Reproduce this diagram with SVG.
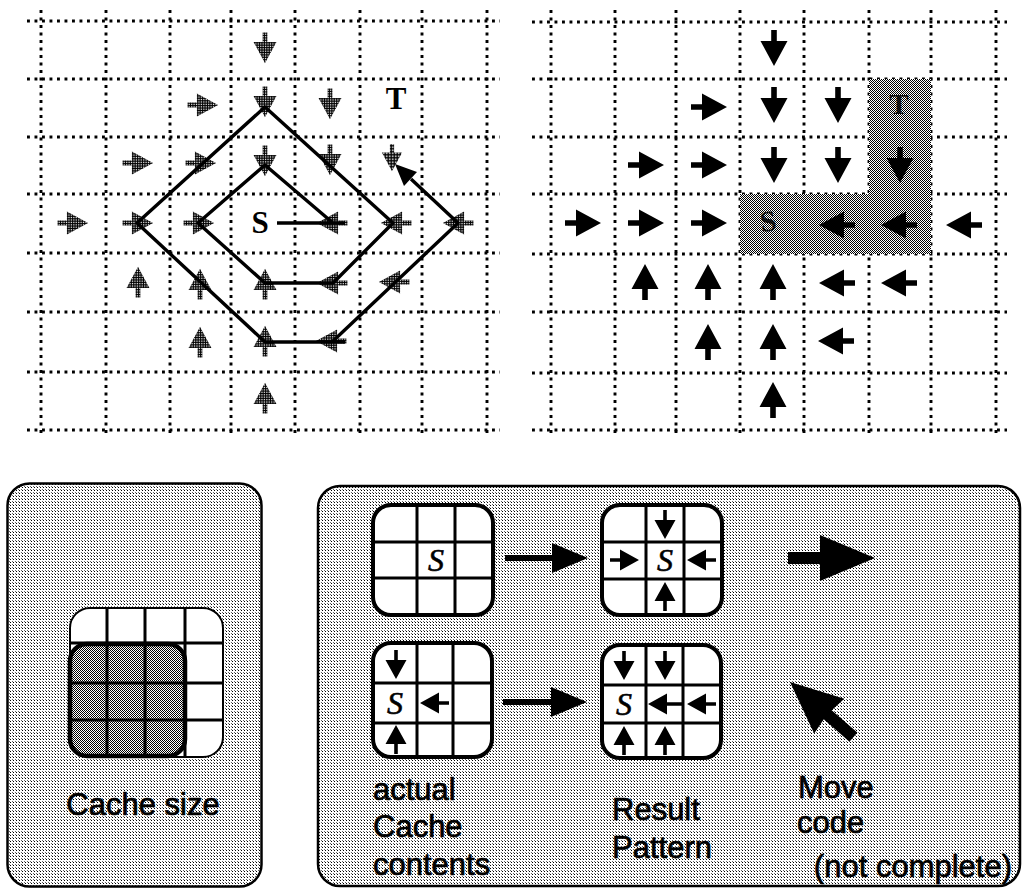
<svg xmlns="http://www.w3.org/2000/svg" xmlns:xlink="http://www.w3.org/1999/xlink" width="1023" height="889" viewBox="0 0 1023 889">
<style>
.dot{fill:none;stroke:#000;stroke-width:2.9;stroke-dasharray:2.9 4.6}
.path{fill:none;stroke:#000;stroke-width:3.4;stroke-linejoin:round}
.panel{stroke:#000;stroke-width:2.5}
.mini{fill:#fff;stroke:#000;stroke-width:4}
.gl{fill:none;stroke:#000;stroke-width:3}
.lab{font-family:"Liberation Sans",Arial,Helvetica,sans-serif;font-size:31px;fill:#000;stroke:#000;stroke-width:0.7}
.ser{font-family:"Liberation Serif","Times New Roman",serif;font-weight:bold;font-size:31px;fill:#000}
.ital{font-family:"Liberation Serif","Times New Roman",serif;font-style:italic;font-size:32px;fill:#000;stroke:#000;stroke-width:0.6;text-anchor:middle}
.sp{fill:url(#speck)}
</style>
<defs>
<pattern id="speck" width="2" height="2" patternUnits="userSpaceOnUse"><rect width="2" height="2" fill="#000"/><rect x="1" y="1" width="1" height="1" fill="#fff"/></pattern>
<pattern id="light" width="3" height="3" patternUnits="userSpaceOnUse"><rect width="3" height="3" fill="#fff"/><rect x="1" y="1" width="1" height="1" fill="#000"/><rect width="1" height="1" fill="#666"/></pattern>
<pattern id="dark" width="2" height="2" patternUnits="userSpaceOnUse"><rect width="2" height="2" fill="#fff"/><rect width="1" height="1" fill="#000"/><rect x="1" y="1" width="1" height="1" fill="#000"/></pattern>
<path id="arr" d="M-17,-2.8 H-6 V-13.5 L19,0 L-6,13.5 V2.8 H-17 Z"/>
<path id="marr" d="M-14,-1.8 H-4 V-10.5 L15,0 L-4,10.5 V1.8 H-14 Z"/>
<path id="marrL" d="M-19,-1.8 H-4 V-10.5 L15,0 L-4,10.5 V1.8 H-19 Z"/>
</defs>

<rect width="1023" height="889" fill="#fff"/>

<!-- Left grid: wavefront expansion -->
<g id="left-grid">
<path class="dot" d="M27,21H500M27,79H500M27,137H500M27,194H500M27,253H500M27,312H500M27,372H500M27,430H500"/>
<path class="dot" d="M41,10V437M106,10V437M170,10V437M231,10V437M295,10V437M360,10V437M422,10V437M487,10V437"/>
</g>

<g id="left-glyphs" class="sp">
<use xlink:href="#arr" transform="translate(265,47) rotate(90) scale(0.85)"/>
<use xlink:href="#arr" transform="translate(202,105) scale(0.85)"/>
<use xlink:href="#arr" transform="translate(265,101) rotate(90) scale(0.85)"/>
<use xlink:href="#arr" transform="translate(330,103) rotate(90) scale(0.85)"/>
<use xlink:href="#arr" transform="translate(137,163) scale(0.85)"/>
<use xlink:href="#arr" transform="translate(200,163) scale(0.85)"/>
<use xlink:href="#arr" transform="translate(265,160) rotate(90) scale(0.85)"/>
<use xlink:href="#arr" transform="translate(330,159) rotate(90) scale(0.85)"/>
<use xlink:href="#arr" transform="translate(392,157) rotate(90) scale(0.75)"/>
<use xlink:href="#arr" transform="translate(72,223) scale(0.85)"/>
<use xlink:href="#arr" transform="translate(137,223) scale(0.85)"/>
<use xlink:href="#arr" transform="translate(198,223) scale(0.85)"/>
<use xlink:href="#arr" transform="translate(333,223) rotate(180) scale(0.85)"/>
<use xlink:href="#arr" transform="translate(397,223) rotate(180) scale(0.85)"/>
<use xlink:href="#arr" transform="translate(459,223) rotate(180) scale(0.85)"/>
<use xlink:href="#arr" transform="translate(138,283) rotate(-90) scale(0.85)"/>
<use xlink:href="#arr" transform="translate(200,285) rotate(-90) scale(0.85)"/>
<use xlink:href="#arr" transform="translate(265,285) rotate(-90) scale(0.85)"/>
<use xlink:href="#arr" transform="translate(333,283) rotate(180) scale(0.85)"/>
<use xlink:href="#arr" transform="translate(395,282) rotate(180) scale(0.85)"/>
<use xlink:href="#arr" transform="translate(200,343) rotate(-90) scale(0.85)"/>
<use xlink:href="#arr" transform="translate(265,342) rotate(-90) scale(0.85)"/>
<use xlink:href="#arr" transform="translate(332,341) rotate(180) scale(0.85)"/>
<use xlink:href="#arr" transform="translate(265,399) rotate(-90) scale(0.85)"/>
</g>

<g id="connectors">
<path class="path" d="M277,223H345M333,223L265,165L198,223L265,283H333L393,223L265,107L137,223L265,342H345M332,342L458,223L411,179"/>
<polygon points="395,164 417,172 404,186" fill="#000"/>
</g>

<g id="left-labels">
<text class="ser" x="260" y="233" text-anchor="middle">S</text>
<text class="ser" x="396" y="109" text-anchor="middle">T</text>
</g>

<!-- Right grid: result pattern -->
<g id="right-grid">
<path class="dot" d="M532,22H1007M532,79H1007M532,137H1007M532,194H1007M532,254H1007M532,312H1007M532,373H1007M532,430H1007"/>
<path class="dot" d="M551,10V437M615,10V437M676,10V437M740,10V437M804,10V437M869,10V437M931,10V437M996,10V437"/>
<path d="M740,194H869V79H931V254H740Z" fill="url(#dark)"/>
<text x="768" y="231" text-anchor="middle" font-family="Liberation Serif,serif" font-weight="bold" font-size="29" fill="#111" transform="rotate(-8 768 220)">S</text>
<text x="899" y="114" text-anchor="middle" font-family="Liberation Serif,serif" font-weight="bold" font-size="29" fill="#111">T</text>
</g>

<g id="right-arrows" fill="#000">
<use xlink:href="#arr" transform="translate(774,47) rotate(90)"/>
<use xlink:href="#arr" transform="translate(708,107)"/>
<use xlink:href="#arr" transform="translate(774,104) rotate(90)"/>
<use xlink:href="#arr" transform="translate(838,104) rotate(90)"/>
<use xlink:href="#arr" transform="translate(645,165)"/>
<use xlink:href="#arr" transform="translate(708,165)"/>
<use xlink:href="#arr" transform="translate(774,164) rotate(90)"/>
<use xlink:href="#arr" transform="translate(838,164) rotate(90)"/>
<use xlink:href="#arr" transform="translate(900,164) rotate(90)"/>
<use xlink:href="#arr" transform="translate(582,223)"/>
<use xlink:href="#arr" transform="translate(645,223)"/>
<use xlink:href="#arr" transform="translate(708,223)"/>
<use xlink:href="#arr" transform="translate(838,225) rotate(180)"/>
<use xlink:href="#arr" transform="translate(900,225) rotate(180)"/>
<use xlink:href="#arr" transform="translate(965,225) rotate(180)"/>
<use xlink:href="#arr" transform="translate(645,283) rotate(-90)"/>
<use xlink:href="#arr" transform="translate(708,283) rotate(-90)"/>
<use xlink:href="#arr" transform="translate(773,283) rotate(-90)"/>
<use xlink:href="#arr" transform="translate(838,283) rotate(180)"/>
<use xlink:href="#arr" transform="translate(900,283) rotate(180)"/>
<use xlink:href="#arr" transform="translate(708,343) rotate(-90)"/>
<use xlink:href="#arr" transform="translate(773,343) rotate(-90)"/>
<use xlink:href="#arr" transform="translate(837,341) rotate(180)"/>
<use xlink:href="#arr" transform="translate(773,401) rotate(-90)"/>
</g>

<!-- Bottom-left panel: cache size -->
<g id="cache-size-panel">
<rect class="panel" x="7.5" y="483.5" width="254" height="403" rx="22" fill="url(#light)"/>
<rect x="70" y="608" width="153" height="149" rx="20" fill="#fff" stroke="#000" stroke-width="2"/>
<path class="gl" d="M107,608V757M145,608V757M185,608V757M70,643H223M70,683H223M70,720H223"/>
<rect x="70" y="644" width="115" height="112" rx="17" fill="url(#dark)" stroke="#000" stroke-width="4.5"/>
<path class="gl" d="M107,644V756M145,644V756M70,683H185M70,720H185"/>
<text class="lab" x="143" y="815" text-anchor="middle">Cache size</text>
</g>

<!-- Bottom-right panel: cache contents to move code -->
<g id="cache-panel">
<rect class="panel" x="318" y="486" width="702" height="400" rx="22" fill="url(#light)"/>
</g>

<g id="grid-actual-1">
<rect class="mini" x="373" y="505" width="120" height="110" rx="18"/>
<path class="gl" d="M417,505V615M455,505V615M373,542H493M373,578H493"/>
<text class="ital" x="436" y="571">S</text>
</g>
<g id="grid-result-1">
<rect class="mini" x="602" y="505" width="120" height="110" rx="18"/>
<path class="gl" d="M646,505V615M684,505V615M602,542H722M602,579H722"/>
<text class="ital" x="665" y="571">S</text>
<use xlink:href="#marr" transform="translate(665,524) rotate(90)"/>
<use xlink:href="#marr" transform="translate(624,560)"/>
<use xlink:href="#marr" transform="translate(702,560) rotate(180)"/>
<use xlink:href="#marr" transform="translate(665,597) rotate(-90)"/>
</g>
<g id="grid-actual-2">
<rect class="mini" x="373" y="643" width="119" height="114" rx="18"/>
<path class="gl" d="M417,643V757M453,643V757M373,683H492M373,723H492"/>
<text class="ital" x="395" y="714">S</text>
<use xlink:href="#marr" transform="translate(396,664) rotate(90)"/>
<use xlink:href="#marr" transform="translate(435,703) rotate(180)"/>
<use xlink:href="#marr" transform="translate(396,740) rotate(-90)"/>
</g>
<g id="grid-result-2">
<rect class="mini" x="602" y="645" width="119" height="113" rx="18"/>
<path class="gl" d="M646,645V758M683,645V758M602,685H721M602,723H721"/>
<text class="ital" x="624" y="715">S</text>
<use xlink:href="#marr" transform="translate(624,665) rotate(90)"/>
<use xlink:href="#marr" transform="translate(665,665) rotate(90)"/>
<use xlink:href="#marrL" transform="translate(663,704) rotate(180)"/>
<use xlink:href="#marr" transform="translate(702,704) rotate(180)"/>
<use xlink:href="#marr" transform="translate(624,741) rotate(-90)"/>
<use xlink:href="#marr" transform="translate(665,741) rotate(-90)"/>
</g>

<g id="panel-arrows" fill="#000">
<path d="M505,555H552V543L588,558L552,573V561H505Z"/>
<path d="M503,699H551V687L587,702L551,717V705H503Z"/>
<path d="M788,552H820V535L875,558L820,581V564H788Z"/>
<polygon transform="translate(790,682) rotate(41)" points="0,0 52,-23 50,-6 84,-6 84,6 50,6 52,23"/>
</g>

<g id="panel-labels">
<text class="lab" x="373" y="800">actual</text>
<text class="lab" x="373" y="837">Cache</text>
<text class="lab" x="373" y="875">contents</text>
<text class="lab" x="612" y="820">Result</text>
<text class="lab" x="612" y="858">Pattern</text>
<text class="lab" x="798" y="798">Move</text>
<text class="lab" x="797" y="833">code</text>
<text class="lab" x="1012" y="877" text-anchor="end" font-size="23" stroke-width="0.5">(not complete)</text>
</g>
</svg>
